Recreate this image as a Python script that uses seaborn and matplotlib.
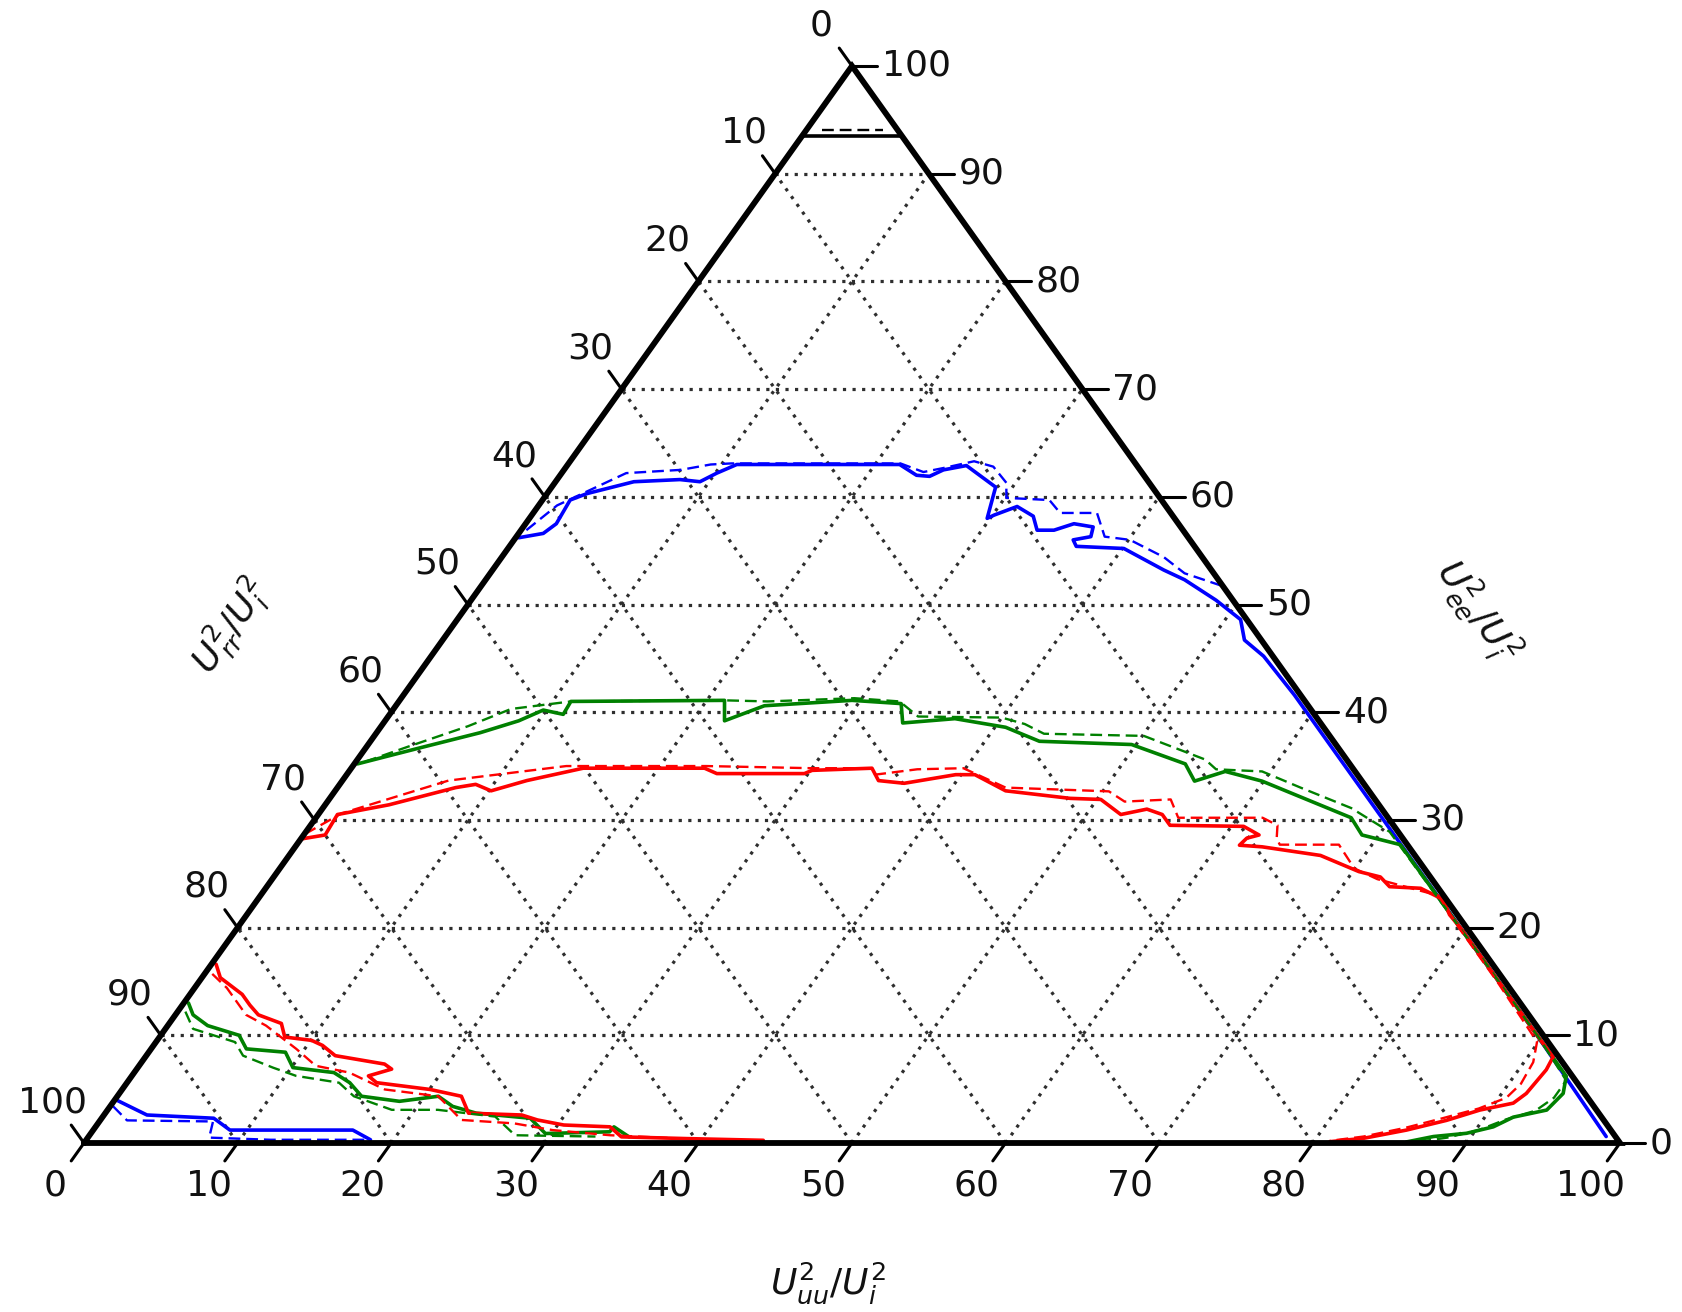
import numpy as np
import pandas as pd
import matplotlib
matplotlib.use("Agg")
import matplotlib.pyplot as plt
import seaborn as sns

sns.set_theme(style="white")
plt.rcParams["font.family"] = ["DejaVu Sans"]
plt.rcParams["mathtext.fontset"] = "dejavusans"
plt.rcParams["text.color"] = "#111111"

# ---------------------------------------------------------------------------
# Axis ticks (percent of U_i^2)
tick_values = list(range(0, 101, 10))
tick_labels = [str(v) for v in tick_values]

# Each curve is given as (U_uu^2/U_i^2, U_ee^2/U_i^2) in percent;
# U_rr^2/U_i^2 is the remainder to 100.

# blue
blue_upper_uu = [0.2, 1.6, 2.0, 1.8, 2.6, 5.1, 8.0, 9.4, 10.1, 11.0, 21.6, 23.2, 24.1, 24.7,
                 26.0, 28.9, 29.8, 30.1, 31.2, 32.7, 33.6, 34.7, 35.7, 37.1, 37.4, 36.4, 36.9,
                 40.1, 43.7, 45.5, 48.5, 51.0, 52.2, 54.2, 58.0, 69.6, 79.6, 89.6, 98.8]
blue_upper_ee = [56.2, 56.6, 57.5, 59.7, 60.3, 61.4, 61.6, 61.4, 62.2, 63.0, 63.0, 62.0, 61.9, 62.5,
                 62.9, 60.9, 58.0, 58.3, 59.1, 58.2, 56.9, 56.9, 57.5, 57.2, 56.3, 56.0, 55.4,
                 55.2, 53.2, 52.3, 50.4, 48.6, 46.7, 45.2, 41.6, 30.0, 20.0, 10.0, 0.6]
blue_upper_dash_uu = [0.35, 1.2, 4.2, 7.6, 9.3, 10.6, 21.6, 23.5, 24.7, 26.3, 27.8, 29.4, 30.1,
                      33.0, 34.3, 36.7, 38.3, 40.1, 43.1, 45.2, 48.3]
blue_upper_dash_ee = [56.9, 59.2, 62.2, 62.5, 63.0, 63.1, 63.1, 62.3, 62.7, 63.3, 62.8, 61.3, 59.9,
                      59.7, 58.5, 58.5, 56.3, 56.0, 54.4, 52.9, 51.7]
blue_lower_uu = [0.1, 2.8, 7.3, 8.9, 16.9, 18.5]
blue_lower_ee = [4.0, 2.6, 2.3, 1.2, 1.2, 0.3]
blue_lower_dash_uu = [0.2, 1.75, 7.4, 7.9, 12.0, 18.5]
blue_lower_dash_ee = [3.4, 2.1, 2.0, 0.5, 0.3, 0.3]

# green
green_upper_uu = [0.2, 3.55, 6.75, 8.7, 9.8, 11.3, 11.2, 21.15, 22.1, 24.0, 29.45, 32.8, 33.8,
                  37.0, 40.7, 43.55, 49.7, 54.1, 55.5, 57.05, 59.9, 67.4, 68.9, 71.85, 82.5,
                  90.0, 93.4, 94.0, 93.7, 91.85, 91.0, 89.55, 87.55, 86.05]
green_upper_ee = [35.2, 36.7, 38.1, 39.2, 40.2, 39.8, 41.0, 41.1, 39.2, 40.6, 41.1, 40.8, 39.0,
                  39.4, 38.6, 37.3, 37.0, 35.2, 33.6, 34.5, 33.6, 30.2, 28.6, 27.7, 17.1,
                  9.6, 6.2, 4.6, 3.06, 2.4, 1.5, 0.9, 0.6, 0.1]
green_upper_dash_uu = [0.6, 2.7, 5.65, 7.65, 11.2, 21.2, 24.0, 29.5, 32.6, 34.5, 40.0, 41.8, 43.5,
                       50.1, 55.2, 56.35, 59.45, 62.7, 66.95, 70.55, 82.6, 90.1, 93.6, 93.6, 93.0,
                       91.5, 90.2, 88.5, 86.8]
green_upper_dash_ee = [35.4, 36.8, 38.7, 40.3, 41.0, 41.1, 41.0, 41.3, 41.0, 39.6, 39.5, 38.9, 38.0,
                       37.8, 35.6, 34.7, 34.5, 33.0, 31.1, 28.9, 17.0, 9.5, 5.8, 4.2, 3.0,
                       2.2, 1.2, 0.5, 0.1]
green_lower_uu = [0.3, 1.15, 2.6, 5.1, 6.2, 8.9, 10.1, 13.0, 14.5, 15.9, 18.6, 20.9, 22.3, 24.15,
                  27.9, 29.6, 33.7, 33.75, 35.2]
green_lower_ee = [13.0, 11.9, 10.9, 10.0, 8.74, 8.43, 7.0, 6.54, 5.6, 4.34, 3.87, 4.34, 3.4, 2.77,
                  2.3, 0.88, 1.04, 1.5, 0.57]
green_lower_dash_uu = [0.5, 1.8, 5.15, 6.3, 8.8, 10.7, 13.8, 15.4, 18.5, 21.5, 25.55, 27.7, 33.0]
green_lower_dash_ee = [12.2, 10.6, 9.37, 8.11, 7.0, 6.23, 5.6, 4.34, 3.08, 3.08, 2.45, 0.72, 0.6]

# red
red_upper_uu = [0.1, 1.4, 1.25, 4.15, 7.7, 8.85, 10.15, 12.0, 15.1, 23.0, 24.05, 29.75, 30.1,
                33.9, 34.9, 36.7, 39.65, 40.9, 43.65, 48.2, 50.25, 52.25, 53.7, 54.95, 55.95,
                60.8, 62.2, 61.55, 61.4, 62.95, 67.15, 70.4, 72.05, 73.1, 75.2, 77.2, 78.3,
                79.6, 84.6, 89.7, 91.65, 91.8, 91.6, 91.2, 89.35, 87.65, 85.5, 83.1, 81.05]
red_upper_ee = [28.25, 28.6, 30.5, 31.4, 33.0, 33.3, 32.7, 33.65, 34.8, 34.8, 34.3, 34.3, 34.6,
                34.8, 33.65, 33.4, 34.2, 34.2, 32.7, 32.0, 31.9, 30.5, 31.0, 30.5, 29.5,
                29.4, 28.6, 28.3, 27.65, 27.5, 26.7, 25.2, 24.7, 23.8, 23.65, 22.6, 21.2,
                20.0, 15.0, 9.9, 8.0, 6.8, 4.6, 3.7, 3.06, 2.1, 1.2, 0.44, 0.12]
red_upper_dash_uu = [0.05, 1.46, 6.9, 13.9, 23.0, 30.0, 33.9, 34.4, 36.9, 39.85, 43.5, 50.4, 51.9,
                     54.8, 56.14, 61.63, 62.95, 63.5, 64.0, 67.85, 69.95, 71.95, 76.7, 79.5, 84.5,
                     89.9, 90.6, 90.8, 90.5, 89.2, 87.3, 85.3, 83.0, 81.0]
red_upper_dash_ee = [28.7, 30.6, 33.65, 35.0, 35.0, 34.8, 34.8, 34.2, 34.7, 34.8, 33.0, 32.65, 31.7,
                     31.9, 30.2, 30.2, 29.5, 28.3, 27.7, 27.7, 25.5, 24.5, 22.97, 20.0, 15.0,
                     9.4, 7.5, 5.5, 4.2, 3.2, 2.3, 1.4, 0.6, 0.2]
red_lower_uu = [0.3, 1.2, 3.4, 4.4, 5.4, 7.3, 8.15, 10.05, 11.0, 12.3, 15.9, 16.6, 15.4, 16.25,
                20.05, 22.4, 23.65, 27.2, 28.45, 30.4, 33.5, 34.7, 39.0, 44.1]
red_lower_ee = [16.6, 15.35, 13.8, 12.8, 11.9, 11.1, 9.84, 9.53, 9.06, 8.11, 7.33, 6.86, 6.23, 5.6,
                4.97, 4.34, 2.77, 2.6, 2.14, 1.67, 1.5, 0.57, 0.41, 0.25]
red_lower_dash_uu = [0.5, 2.1, 4.6, 6.4, 9.45, 11.5, 14.0, 17.1, 20.9, 23.5, 27.1, 29.9, 33.9, 40.3]
red_lower_dash_ee = [15.7, 14.4, 11.9, 10.9, 8.74, 7.17, 6.54, 4.97, 4.34, 2.14, 1.82, 1.2, 0.72, 0.31]

# black
black_top_uu = [0.0, 6.5]
black_top_ee = [93.5, 93.5]
black_top_dash_uu = [1.0, 5.0]
black_top_dash_ee = [94.1, 94.1]

palette = {"blue": "#0000ff", "green": "#008000", "red": "#ff0000", "black": "#000000"}


def to_xy(uu, ee):
    """Ternary (U_uu, U_ee) in percent -> cartesian position in the triangle."""
    uu = np.asarray(uu, dtype=float)
    ee = np.asarray(ee, dtype=float)
    return (uu + ee / 2.0) / 100.0, ee / 100.0


pieces = [
    ("blue", "solid", blue_upper_uu, blue_upper_ee),
    ("blue", "dashed", blue_upper_dash_uu, blue_upper_dash_ee),
    ("blue", "solid", blue_lower_uu, blue_lower_ee),
    ("blue", "dashed", blue_lower_dash_uu, blue_lower_dash_ee),
    ("green", "solid", green_upper_uu, green_upper_ee),
    ("green", "dashed", green_upper_dash_uu, green_upper_dash_ee),
    ("green", "solid", green_lower_uu, green_lower_ee),
    ("green", "dashed", green_lower_dash_uu, green_lower_dash_ee),
    ("red", "solid", red_upper_uu, red_upper_ee),
    ("red", "dashed", red_upper_dash_uu, red_upper_dash_ee),
    ("red", "solid", red_lower_uu, red_lower_ee),
    ("red", "dashed", red_lower_dash_uu, red_lower_dash_ee),
    ("black", "solid", black_top_uu, black_top_ee),
    ("black", "dashed", black_top_dash_uu, black_top_dash_ee),
]

frames = []
for i, (series, kind, uu, ee) in enumerate(pieces):
    x, y = to_xy(uu, ee)
    frames.append(pd.DataFrame({"x": x, "y": y, "series": series,
                                "kind": kind, "piece": i}))
df = pd.concat(frames, ignore_index=True)

# ---------------------------------------------------------------------------
W, H = 1682, 1312
fig = plt.figure(figsize=(W / 100, H / 100), dpi=100)
left_px, right_px, top_px, bot_px = 84, 1620, 66, 1143
ax = fig.add_axes([left_px / W, (H - bot_px) / H,
                   (right_px - left_px) / W, (bot_px - top_px) / H])
ax_w = right_px - left_px
ax_h = bot_px - top_px

# dotted grid every 10 %
grid_kw = dict(ls=(0, (1, 2.0)), color="#2e2e2e", lw=2.3, zorder=1)
for v in tick_values[1:-1]:
    ax.plot(*to_xy([0, 100 - v], [v, v]), **grid_kw)          # constant U_ee
    ax.plot(*to_xy([v, v], [0, 100 - v]), **grid_kw)          # constant U_uu
    ax.plot(*to_xy([100 - v, 0], [0, 100 - v]), **grid_kw)    # constant U_rr

# data curves
sns.lineplot(data=df[df["kind"] == "solid"], x="x", y="y", hue="series",
             units="piece", estimator=None, sort=False, palette=palette,
             lw=2.6, legend=False, ax=ax, zorder=3)
sns.lineplot(data=df[df["kind"] == "dashed"], x="x", y="y", hue="series",
             units="piece", estimator=None, sort=False, palette=palette,
             lw=1.7, linestyle=(0, (5, 2.5)), legend=False, ax=ax, zorder=3)

# triangle frame
ax.plot(*to_xy([0, 100, 0, 0], [0, 0, 100, 0]), color="black", lw=4.2,
        solid_joinstyle="miter", zorder=5, clip_on=False)

# ticks and tick labels
ux, uy = 768 / np.hypot(768, 1077), 1077 / np.hypot(768, 1077)
tick_len = 22
lab_dist = 50
fs = 26
tick_kw = dict(color="black", lw=2.2, zorder=5, clip_on=False)

for v, lab in zip(tick_values, tick_labels):
    # bottom axis: U_uu
    x0, y0 = to_xy(v, 0)
    dx, dy = -ux, -uy
    ax.plot([x0, x0 + dx * tick_len / ax_w], [y0, y0 + dy * tick_len / ax_h], **tick_kw)
    ax.annotate(lab, (x0, y0), xytext=(dx * lab_dist, dy * lab_dist - 2),
                textcoords="offset pixels", ha="center", va="center", fontsize=fs)
    # left axis: U_rr
    x0, y0 = to_xy(0, 100 - v)
    dx, dy = -ux, uy
    ax.plot([x0, x0 + dx * tick_len / ax_w], [y0, y0 + dy * tick_len / ax_h], **tick_kw)
    ax.annotate(lab, (x0, y0), xytext=(dx * lab_dist - 2, dy * lab_dist),
                textcoords="offset pixels", ha="center", va="center", fontsize=fs)
    # right axis: U_ee
    x0, y0 = to_xy(100 - v, v)
    ax.plot([x0, x0 + tick_len * 1.15 / ax_w], [y0, y0], **tick_kw)
    ax.annotate(lab, (x0, y0), xytext=(30, 0), textcoords="offset pixels",
                ha="left", va="center", fontsize=fs)

ax.set_xlim(0, 1)
ax.set_ylim(0, 1)
ax.axis("off")

# axis titles
fig.text(828 / W, 1 - 1283 / H, r"$U_{uu}^2/U_i^2$", ha="center", va="center", fontsize=fs)
fig.text(231 / W, 1 - 627 / H, r"$U_{rr}^2/U_i^2$", ha="center", va="center",
         fontsize=fs, rotation=55)
fig.text(1478 / W, 1 - 611 / H, r"$U_{ee}^2/U_i^2$", ha="center", va="center",
         fontsize=fs, rotation=-55)

fig.savefig("out.png", dpi=100, facecolor="white")
